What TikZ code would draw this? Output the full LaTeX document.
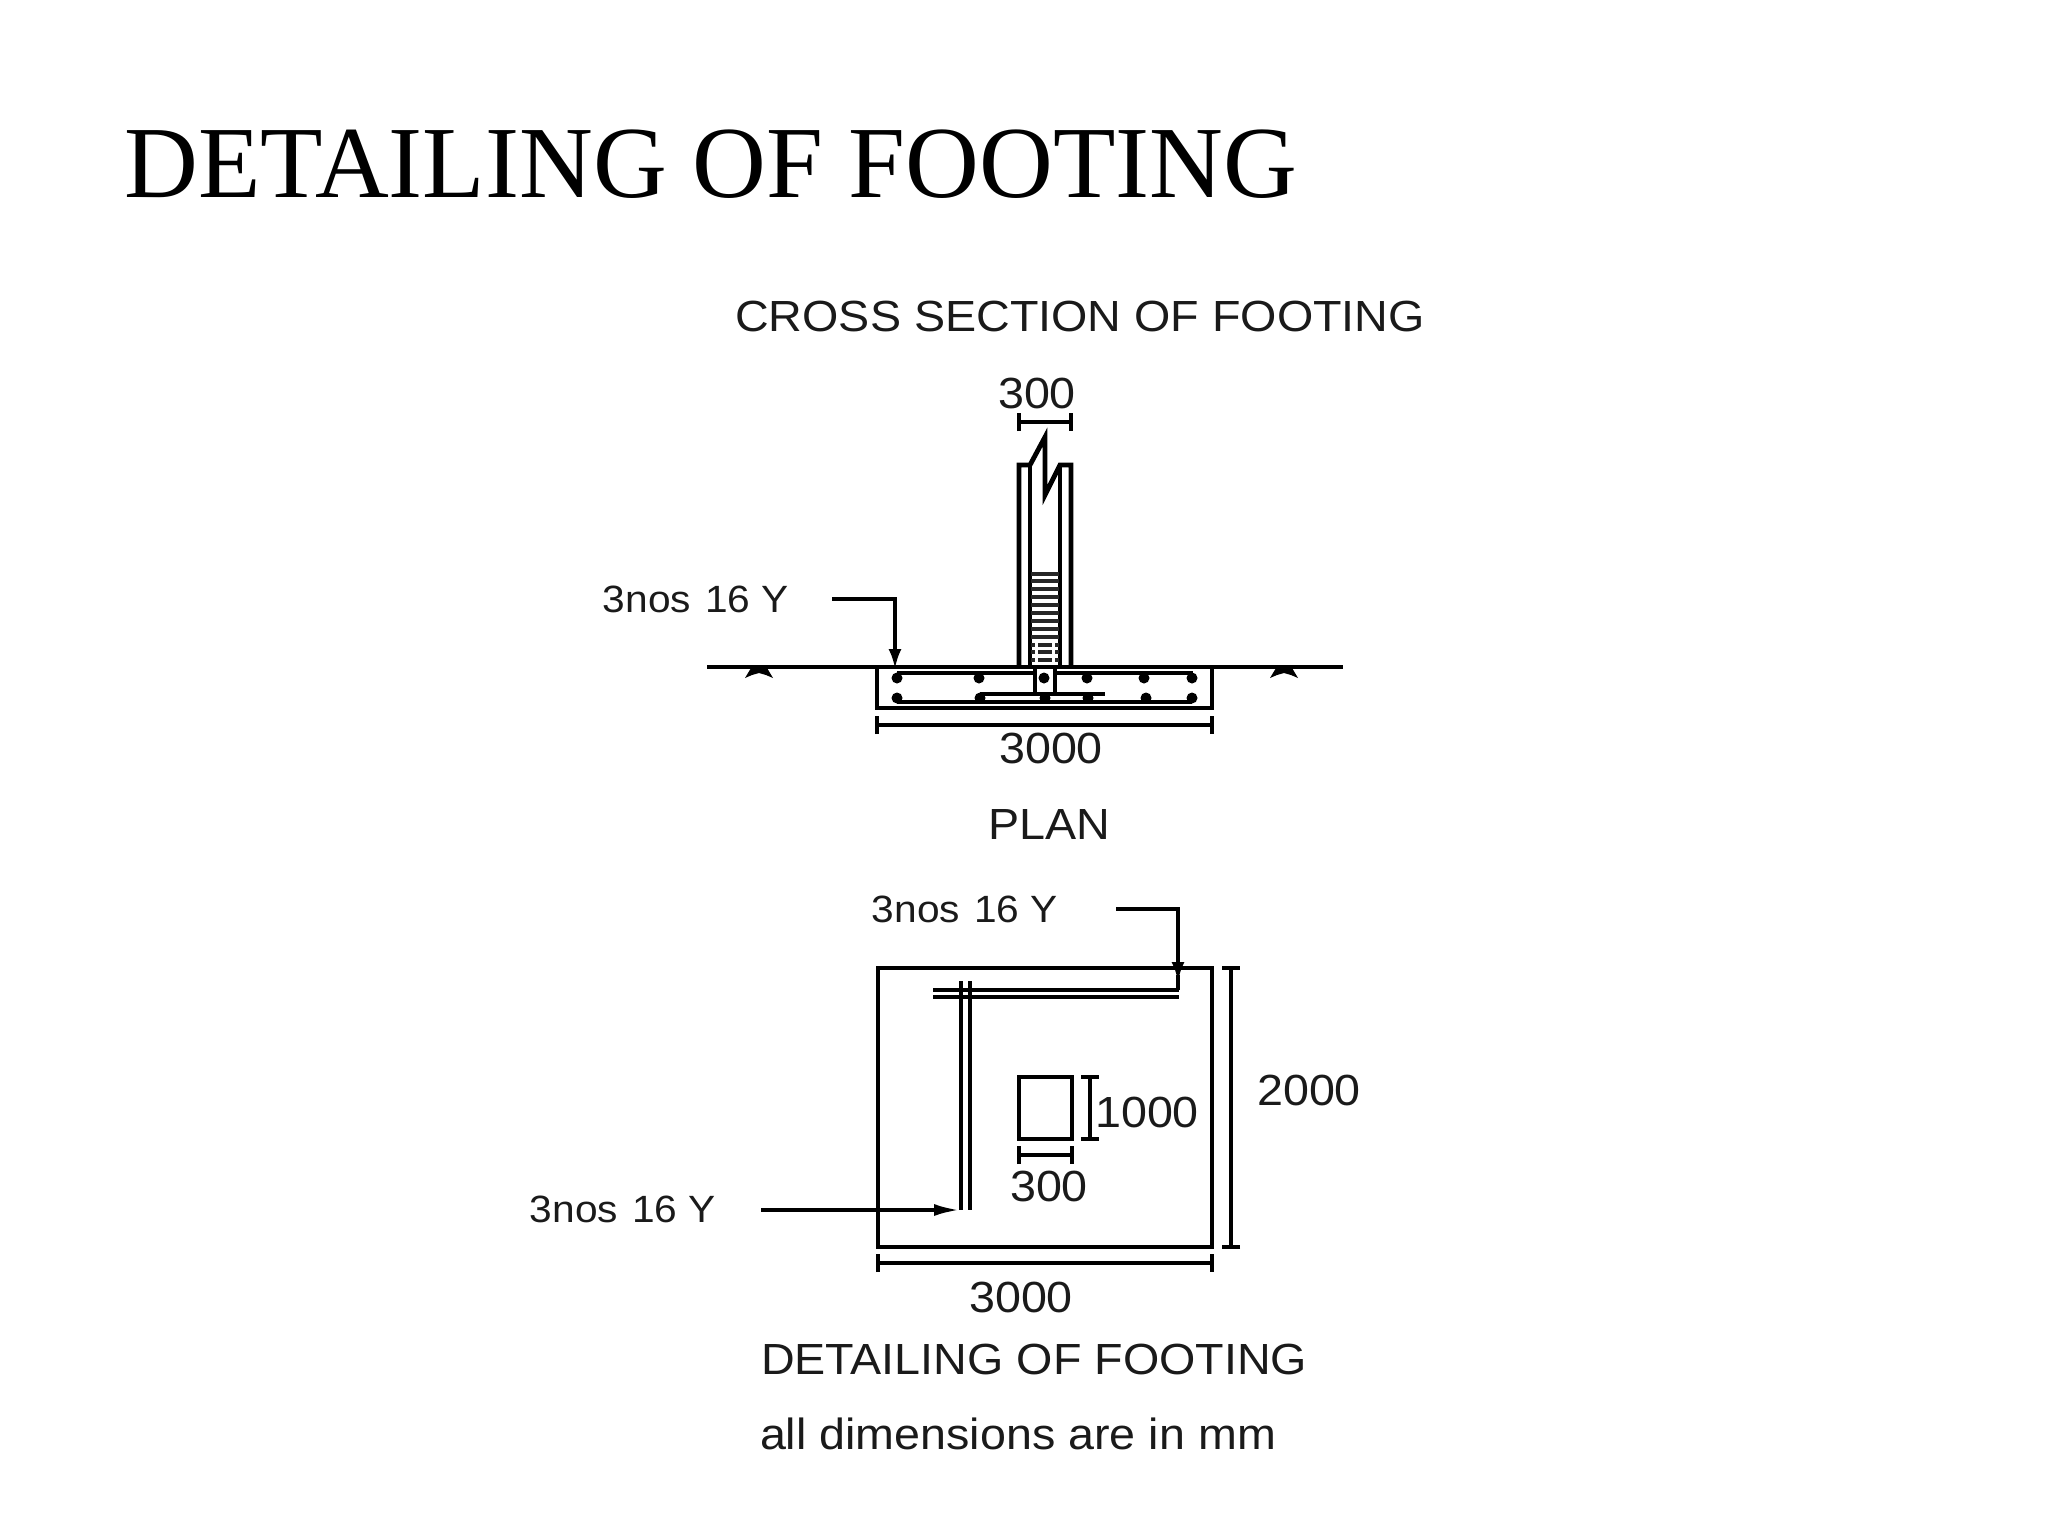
\documentclass[tikz,border=0pt]{standalone}
\usepackage{fontspec}
\setmainfont{Liberation Serif}
\newfontfamily\drawfont[FakeStretch=1.07]{Liberation Sans}
\usetikzlibrary{arrows.meta}
\definecolor{inkc}{HTML}{1A1A1A}
\tikzset{
  x=0.5pt,y=-0.5pt,
  heading/.style={anchor=base,inner sep=0,font=\fontsize{51.1}{60}\selectfont},
  lab/.style={anchor=base,inner sep=0,text=inkc,font=\drawfont\fontsize{21.8}{24}\selectfont},
  labsm/.style={anchor=base,inner sep=0,text=inkc,font=\drawfont\fontsize{19}{22}\selectfont},
  part/.style={draw=black,line width=2.1pt,line join=miter},
  wall/.style={draw=black,line width=2.4pt,line join=miter},
  tie/.style={draw=black!85,line width=1.9pt},
  bar/.style={draw=black,line width=2pt},
  leader/.style={draw=black,line width=1.9pt,-{Latex[length=13pt,width=6pt]}},
  leaderv/.style={draw=black,line width=1.9pt,-{Latex[length=10pt,width=6.5pt]}},
  dimline/.style={draw=black,line width=2.1pt,shorten <=-1pt,shorten >=-1pt,{Bar[width=9pt,line width=2.1pt]}-{Bar[width=9pt,line width=2.1pt]}},
  rebar/.style={circle,fill=black,minimum size=5.5pt,inner sep=0},
}
\begin{document}
\begin{tikzpicture}
\useasboundingbox (0,0) rectangle (2048,1536);
% title
\node[heading] (title) at (711,197) {DETAILING OF FOOTING};
\node[lab] (tcross) at (1080,331) {CROSS SECTION OF FOOTING};
% cross section: column with broken top
\draw[wall] (1019,667) -- (1019,465) -- (1030,465) -- (1045,437) -- (1045,495) -- (1060,465) -- (1071,465) -- (1071,667);
\draw[wall] (1030,667) -- (1030,465);
\draw[wall] (1060,667) -- (1060,465);
% ties
\foreach \y in {574,581,589,597,605,613,621,629,637}{\draw[tie] (1031,\y) -- (1059,\y);}
\foreach \y in {645,652,660}{\draw[tie] (1038,\y) -- (1052,\y);\draw[tie] (1031,\y) -- (1035,\y) (1055,\y) -- (1059,\y);}
% ground
\draw[wall] (707,667) -- (1343,667);
\foreach \gx in {759,1284}{\fill (\gx-14,678) -- (\gx-8,668) -- (\gx+8,668) -- (\gx+14,678) -- (\gx+7,675) -- (\gx,673) -- (\gx-7,675) -- cycle;}
% footing outline
\draw[part] (877,667) -- (877,708) -- (1212,708) -- (1212,667);
% reinforcement
\draw[bar] (897,673) -- (1034,673) (1056,673) -- (1193,673);
\draw[bar] (897,702) -- (1192,702);
\draw[bar] (980,694) -- (1105,694);
\draw[bar] (1035,668) -- (1035,694) (1055,668) -- (1055,694);
\foreach \rx in {897,979,1044,1087,1144,1192}{\node[rebar] at (\rx,678) {};}
\foreach \rx in {897,980,1045,1088,1146,1192}{\node[rebar] at (\rx,698) {};}
% dims section
\coordinate (dsa) at (1019,422); \coordinate (dsb) at (1071,422);
\draw[dimline] (dsa) -- (dsb);
\coordinate (dfa) at (877,725); \coordinate (dfb) at (1212,725);
\draw[dimline] (dfa) -- (dfb);
\node[lab] (t300a) at (1037,408) {300};
\node[lab] (t3000a) at (1051,763) {3000};
% leader section
\node[labsm] (n1) at (696,612) {3nos\hspace{1.5pt} 16 Y};
\coordinate (l1a) at (832,599); \coordinate (l1b) at (895,599); \coordinate (l1c) at (895,669);
\draw[leaderv] (l1a) -- (l1b) -- (l1c);
\node[lab] (tplan) at (1049,839) {PLAN};
% plan
\node[labsm] (n2) at (965,922) {3nos\hspace{1.5pt} 16 Y};
\draw[part] (878,968) rectangle (1212,1247);
\coordinate (l2a) at (1116,909); \coordinate (l2b) at (1178,909); \coordinate (l2c) at (1178,982);
\draw[leaderv] (l2a) -- (l2b) -- (l2c);
\draw[bar] (1178,975) -- (1178,990);
\draw[bar] (933,990) -- (1179,990);
\draw[bar] (933,997) -- (1179,997);
\draw[bar] (961,981) -- (961,1210);
\draw[bar] (970,981) -- (970,1210);
\node[labsm] (n3) at (623,1222) {3nos\hspace{1.5pt} 16 Y};
\coordinate (l3a) at (761,1210); \coordinate (l3b) at (960,1210);
\draw[leader] (l3a) -- (l3b);
\draw[part] (1019,1077) rectangle (1072,1139);
\coordinate (da1) at (1090,1077); \coordinate (da2) at (1090,1139);
\draw[dimline] (da1) -- (da2);
\node[lab] (t1000) at (1147,1127) {1000};
\coordinate (db1) at (1019,1155); \coordinate (db2) at (1072,1155);
\draw[dimline] (db1) -- (db2);
\node[lab] (t300b) at (1049,1201) {300};
\coordinate (dc1) at (1231,968); \coordinate (dc2) at (1231,1247);
\draw[dimline] (dc1) -- (dc2);
\node[lab] (t2000) at (1309,1105) {2000};
\coordinate (dd1) at (878,1263); \coordinate (dd2) at (1212,1263);
\draw[dimline] (dd1) -- (dd2);
\node[lab] (t3000b) at (1021,1312) {3000};
\node[lab] (tdet) at (1034,1374) {DETAILING OF FOOTING};
\node[lab] (tall) at (1018,1449) {all dimensions are in mm};
\end{tikzpicture}
\end{document}
